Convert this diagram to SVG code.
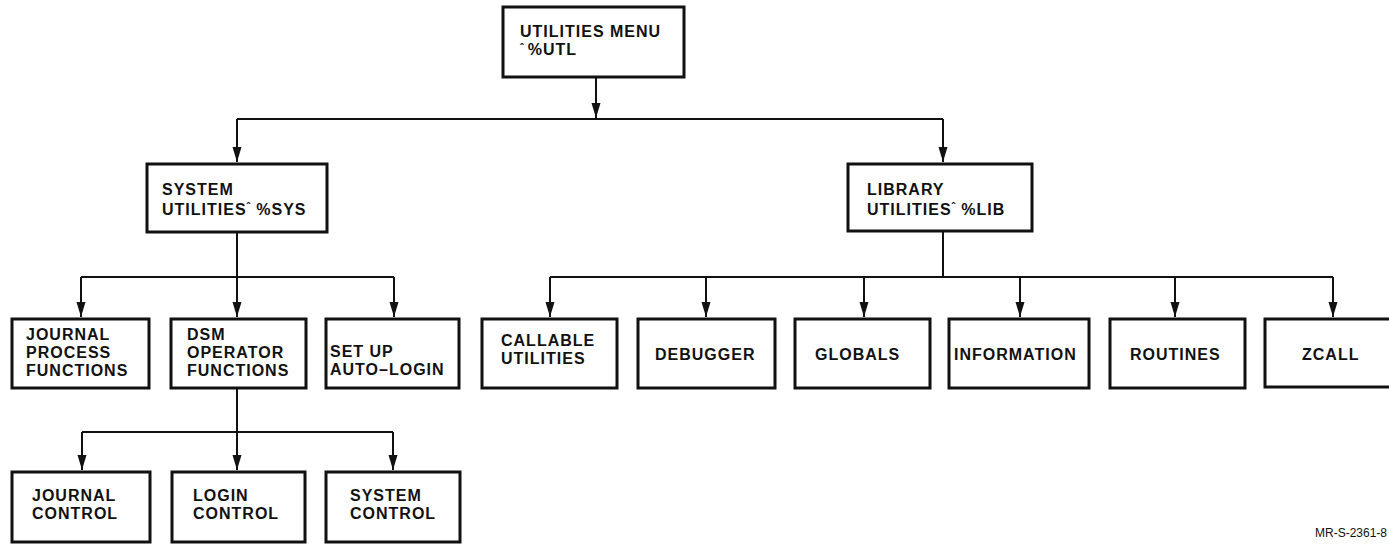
<svg xmlns="http://www.w3.org/2000/svg" width="1389" height="545" viewBox="0 0 1389 545">
<style>
.box{fill:#fff;stroke:#111;stroke-width:3}
.t{font-family:"Liberation Sans",Arial,sans-serif;font-weight:bold;font-size:16px;letter-spacing:1px;fill:#111}
.c{fill:none;stroke:#111;stroke-width:2}
.lbl{font-family:"Liberation Sans",Arial,sans-serif;font-size:12px;fill:#111}
</style>
<defs>
<marker id="ah" markerUnits="userSpaceOnUse" markerWidth="16" markerHeight="10" refX="15" refY="4.5" orient="auto">
<path d="M0,0 L15,4.5 L0,9 z" fill="#111"/>
</marker>
</defs>
<rect width="1389" height="545" fill="#fff"/>
<g id="connectors">
<path class="c" d="M596,78 V118" marker-end="url(#ah)"/>
<path class="c" d="M237,119 H943"/>
<path class="c" d="M237,119 V162" marker-end="url(#ah)"/>
<path class="c" d="M943,119 V162" marker-end="url(#ah)"/>
<path class="c" d="M237,233 V277"/>
<path class="c" d="M81,277 H394"/>
<path class="c" d="M81,277 V317" marker-end="url(#ah)"/>
<path class="c" d="M237,277 V317" marker-end="url(#ah)"/>
<path class="c" d="M394,277 V317" marker-end="url(#ah)"/>
<path class="c" d="M943,232 V277"/>
<path class="c" d="M550,277 H1333"/>
<path class="c" d="M550,277 V317" marker-end="url(#ah)"/>
<path class="c" d="M706,277 V317" marker-end="url(#ah)"/>
<path class="c" d="M864,277 V317" marker-end="url(#ah)"/>
<path class="c" d="M1020,277 V317" marker-end="url(#ah)"/>
<path class="c" d="M1175,277 V317" marker-end="url(#ah)"/>
<path class="c" d="M1333,277 V317" marker-end="url(#ah)"/>
<path class="c" d="M237,389 V432"/>
<path class="c" d="M82,432 H393"/>
<path class="c" d="M82,432 V470" marker-end="url(#ah)"/>
<path class="c" d="M237,432 V470" marker-end="url(#ah)"/>
<path class="c" d="M393,432 V470" marker-end="url(#ah)"/>
</g>
<g id="utilities-menu">
<rect class="box" x="503" y="7" width="181" height="70"/>
<text class="t" x="520" y="37">UTILITIES MENU</text>
<text class="t" x="520" y="55"><tspan font-size="11" dy="-4">ˆ</tspan><tspan dx="3" dy="4">%UTL</tspan></text>
</g>
<g id="system-utilities">
<rect class="box" x="147" y="164" width="180" height="68"/>
<text class="t" x="162" y="195">SYSTEM</text>
<text class="t" x="162" y="215">UTILITIES<tspan font-size="11" dy="-5">ˆ</tspan><tspan dx="5" dy="5">%SYS</tspan></text>
</g>
<g id="library-utilities">
<rect class="box" x="848" y="164" width="184" height="67"/>
<text class="t" x="867" y="195">LIBRARY</text>
<text class="t" x="867" y="215">UTILITIES<tspan font-size="11" dy="-5">ˆ</tspan><tspan dx="5" dy="5">%LIB</tspan></text>
</g>
<g id="journal-process">
<rect class="box" x="12" y="319" width="137" height="69"/>
<text class="t" x="26" y="340">JOURNAL</text>
<text class="t" x="26" y="358">PROCESS</text>
<text class="t" x="26" y="376">FUNCTIONS</text>
</g>
<g id="dsm-operator">
<rect class="box" x="171" y="319" width="135" height="69"/>
<text class="t" x="187" y="340">DSM</text>
<text class="t" x="187" y="358">OPERATOR</text>
<text class="t" x="187" y="376">FUNCTIONS</text>
</g>
<g id="setup-autologin">
<rect class="box" x="326" y="319" width="133" height="69"/>
<text class="t" x="330" y="357">SET UP</text>
<text class="t" x="330" y="375">AUTO–LOGIN</text>
</g>
<g id="callable-utilities">
<rect class="box" x="482" y="319" width="135" height="69"/>
<text class="t" x="501" y="346">CALLABLE</text>
<text class="t" x="501" y="364">UTILITIES</text>
</g>
<g id="debugger">
<rect class="box" x="638" y="319" width="137" height="69"/>
<text class="t" x="655" y="360">DEBUGGER</text>
</g>
<g id="globals">
<rect class="box" x="795" y="319" width="135" height="69"/>
<text class="t" x="815" y="360">GLOBALS</text>
</g>
<g id="information">
<rect class="box" x="949" y="319" width="140" height="69"/>
<text class="t" x="954" y="360">INFORMATION</text>
</g>
<g id="routines">
<rect class="box" x="1110" y="319" width="135" height="69"/>
<text class="t" x="1130" y="360">ROUTINES</text>
</g>
<g id="zcall">
<rect class="box" x="1265" y="319" width="140" height="68"/>
<text class="t" x="1302" y="360">ZCALL</text>
</g>
<g id="journal-control">
<rect class="box" x="12" y="472" width="138" height="70"/>
<text class="t" x="32" y="501">JOURNAL</text>
<text class="t" x="32" y="519">CONTROL</text>
</g>
<g id="login-control">
<rect class="box" x="172" y="472" width="133" height="70"/>
<text class="t" x="193" y="501">LOGIN</text>
<text class="t" x="193" y="519">CONTROL</text>
</g>
<g id="system-control">
<rect class="box" x="326" y="472" width="134" height="70"/>
<text class="t" x="350" y="501">SYSTEM</text>
<text class="t" x="350" y="519">CONTROL</text>
</g>
<text class="lbl" x="1315" y="537">MR-S-2361-8</text>
</svg>
